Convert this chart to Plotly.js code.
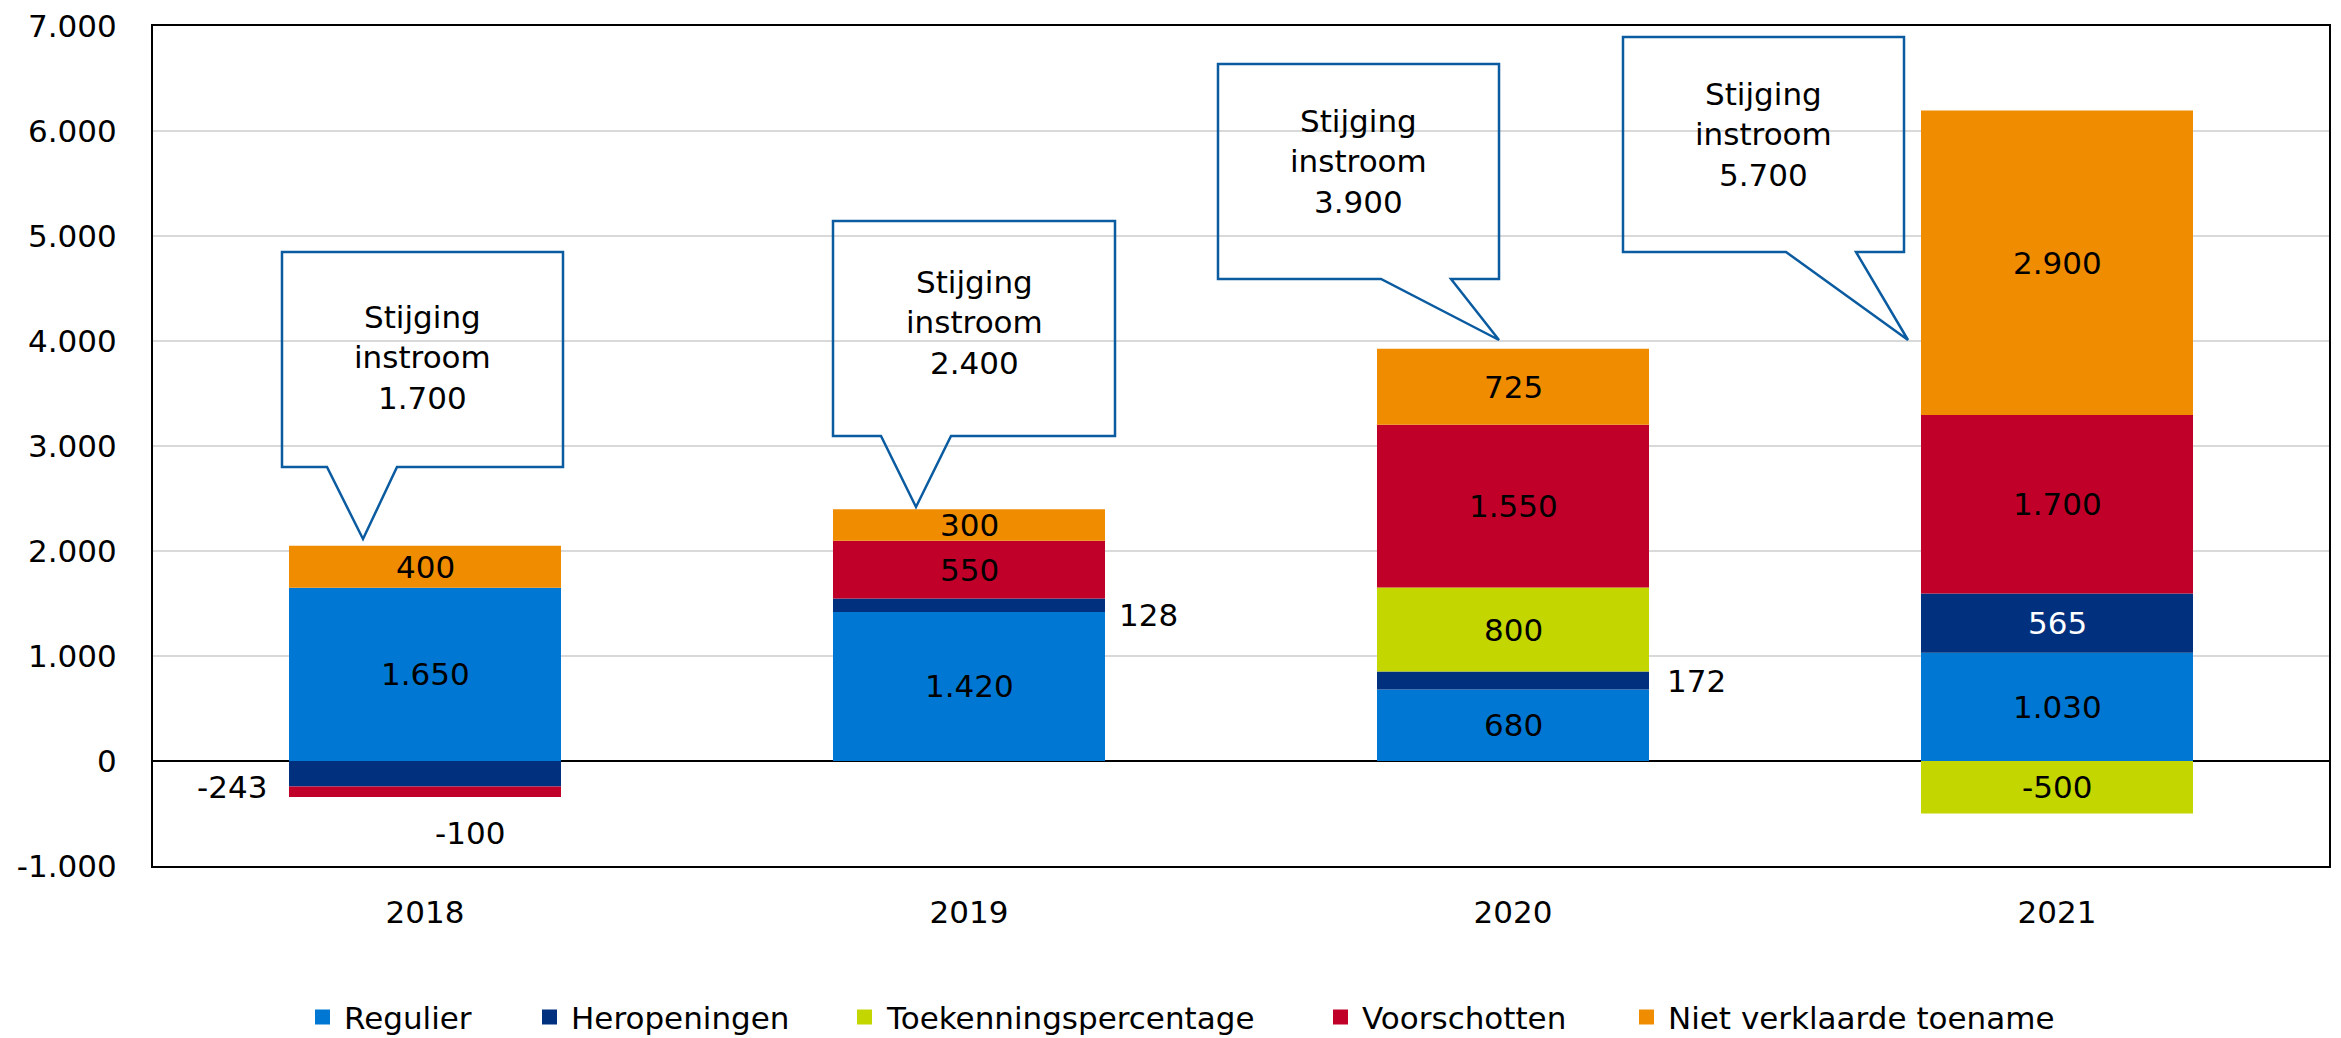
<!DOCTYPE html>
<html>
<head>
<meta charset="utf-8">
<script src="https://cdn.plot.ly/plotly-3.0.1.min.js"></script>
<style>html,body{margin:0;padding:0;background:#fff;}#chart{width:2341px;height:1038px;}</style>
</head>
<body>
<div id="chart"></div>
<script>
// ---- data ----
const years = ['2018', '2019', '2020', '2021'];
const seriesNames = ['Regulier', 'Heropeningen', 'Toekenningspercentage', 'Voorschotten', 'Niet verklaarde toename'];
const regulier = [1650, 1420, 680, 1030];
const heropeningen = [-243, 128, 172, 565];
const toekenningspercentage = [null, null, 800, -500];
const voorschotten = [-100, 550, 1550, 1700];
const nietVerklaard = [400, 300, 725, 2900];
const stijgingInstroom = [1700, 2400, 3900, 5700];
const yTickVals = [-1000, 0, 1000, 2000, 3000, 4000, 5000, 6000, 7000];
const yTickText = ['-1.000', '0', '1.000', '2.000', '3.000', '4.000', '5.000', '6.000', '7.000'];

// ---- styles ----
const seriesValues = [regulier, heropeningen, toekenningspercentage, voorschotten, nietVerklaard];
const colors = ['#0077D3', '#01307F', '#C3D600', '#C1002A', '#F08C00'];
const labelColors = ['#000', '#fff', '#000', '#000', '#000'];
const FONT = 'DejaVu Sans, Verdana, sans-serif';
const FS = 31;
const W = 2341, H = 1038;
const P = {l: 153, r: 2329, t: 26, b: 866};
const BARGAP = 0.5;
const px2x = x => (x - P.l) / (P.r - P.l);
const px2y = y => (P.b - y) / (P.b - P.t);

// labels that sit outside their bar segment
const outsideLabels = {
  'Heropeningen|2018': {side: 'left', gap: 20, yshift: -13},
  'Voorschotten|2018': {side: 'below', xshift: 45, yshift: -16},
  'Heropeningen|2019': {side: 'right', gap: 12, yshift: -10},
  'Heropeningen|2020': {side: 'right', gap: 16, yshift: 0}
};

// callout geometry in page pixels
const callouts = [
  {box: [282, 563, 252, 467], base: [327, 397], tip: [363, 539], textY: 357},
  {box: [833, 1115, 221, 436], base: [881, 951], tip: [916, 507], textY: 323},
  {box: [1218, 1499, 64, 279], base: [1381, 1451], tip: [1499, 340], textY: 161},
  {box: [1623, 1904, 37, 252], base: [1786, 1856], tip: [1908, 340], textY: 134}
];

// legend placement in page pixels
const legendX = [315, 542, 857, 1333, 1639];
const legendY = 1018;
const legendBox = 15;

function fmt(v) {
  const s = Math.abs(Math.round(v)).toString().replace(/\B(?=(\d{3})+(?!\d))/g, '.');
  return (v < 0 ? '-' : '') + s;
}

const traces = seriesNames.map((name, i) => ({
  type: 'bar',
  name: name,
  x: years,
  y: seriesValues[i],
  marker: {color: colors[i], line: {width: 0}},
  hoverinfo: 'x+y+name',
  showlegend: false
}));

// segment labels
const annotations = [];
const catW = (P.r - P.l) / years.length;
const halfBar = catW * (1 - BARGAP) / 2;
years.forEach((yr, j) => {
  let pos = 0, neg = 0;
  seriesValues.forEach((vals, i) => {
    const v = vals[j];
    if (v === null || v === 0) return;
    let base;
    if (v > 0) { base = pos; pos += v; } else { base = neg; neg += v; }
    const top = base + v;
    const mid = (base + top) / 2;
    const key = seriesNames[i] + '|' + yr;
    const o = outsideLabels[key];
    const a = {x: j, y: mid, xref: 'x', yref: 'y', text: fmt(v), showarrow: false,
      font: {family: FONT, size: FS, color: labelColors[i]}};
    if (o) {
      a.font.color = '#000';
      if (o.side === 'left') { a.xanchor = 'right'; a.xshift = -(halfBar + o.gap); a.yshift = o.yshift; }
      else if (o.side === 'right') { a.xanchor = 'left'; a.xshift = halfBar + o.gap; a.yshift = o.yshift; }
      else if (o.side === 'below') { a.y = top; a.yanchor = 'top'; a.xshift = o.xshift; a.yshift = o.yshift; }
    }
    annotations.push(a);
  });
});

// callouts
const shapes = [];
callouts.forEach((c, k) => {
  const [x0, x1, y0, y1] = c.box;
  const pts = [[x0, y0], [x1, y0], [x1, y1], [c.base[1], y1], [c.tip[0], c.tip[1]], [c.base[0], y1], [x0, y1]];
  const path = 'M' + pts.map(p => px2x(p[0]).toFixed(5) + ',' + px2y(p[1]).toFixed(5)).join(' L') + ' Z';
  shapes.push({type: 'path', xref: 'paper', yref: 'paper', path: path,
    line: {color: '#0A5BA0', width: 2.5}, fillcolor: 'rgba(0,0,0,0)', layer: 'above'});
  annotations.push({xref: 'paper', yref: 'paper', x: px2x((x0 + x1) / 2), y: px2y(c.textY),
    xanchor: 'center', yanchor: 'middle', showarrow: false, align: 'center',
    text: 'Stijging<br>instroom<br>' + fmt(stijgingInstroom[k]),
    font: {family: FONT, size: FS, color: '#000'}});
});

// legend
seriesNames.forEach((name, i) => {
  const x = legendX[i];
  shapes.push({type: 'rect', xref: 'paper', yref: 'paper',
    x0: px2x(x), x1: px2x(x + legendBox), y0: px2y(legendY - legendBox / 2 - 1), y1: px2y(legendY + legendBox / 2 - 1),
    fillcolor: colors[i], line: {width: 0}});
  annotations.push({xref: 'paper', yref: 'paper', x: px2x(x + legendBox + 12), y: px2y(legendY),
    xanchor: 'left', yanchor: 'middle', showarrow: false, text: name,
    font: {family: FONT, size: FS, color: '#000'}});
});

const layout = {
  width: W, height: H,
  margin: {l: P.l, r: W - P.r, t: P.t, b: H - P.b, pad: 0},
  paper_bgcolor: '#fff', plot_bgcolor: '#fff',
  barmode: 'relative', bargap: BARGAP,
  showlegend: false,
  font: {family: FONT, size: FS, color: '#000'},
  xaxis: {type: 'category', range: [-0.5, years.length - 0.5], autorange: false,
    showline: true, linecolor: '#000', linewidth: 2, mirror: true,
    ticks: '', showgrid: false, ticklabelstandoff: 18, tickfont: {family: FONT, size: FS, color: '#000'}},
  yaxis: {range: [-1000, 7000], autorange: false, tickvals: yTickVals, ticktext: yTickText,
    showline: true, linecolor: '#000', linewidth: 2, mirror: true, ticks: '',
    showgrid: true, gridcolor: '#D9D9D9', gridwidth: 1.5,
    zeroline: true, zerolinecolor: '#000', zerolinewidth: 1.2,
    ticklabelstandoff: 28, tickfont: {family: FONT, size: FS, color: '#000'}},
  annotations: annotations,
  shapes: shapes
};

Plotly.newPlot('chart', traces, layout, {displayModeBar: false, staticPlot: true});
</script>
</body>
</html>
